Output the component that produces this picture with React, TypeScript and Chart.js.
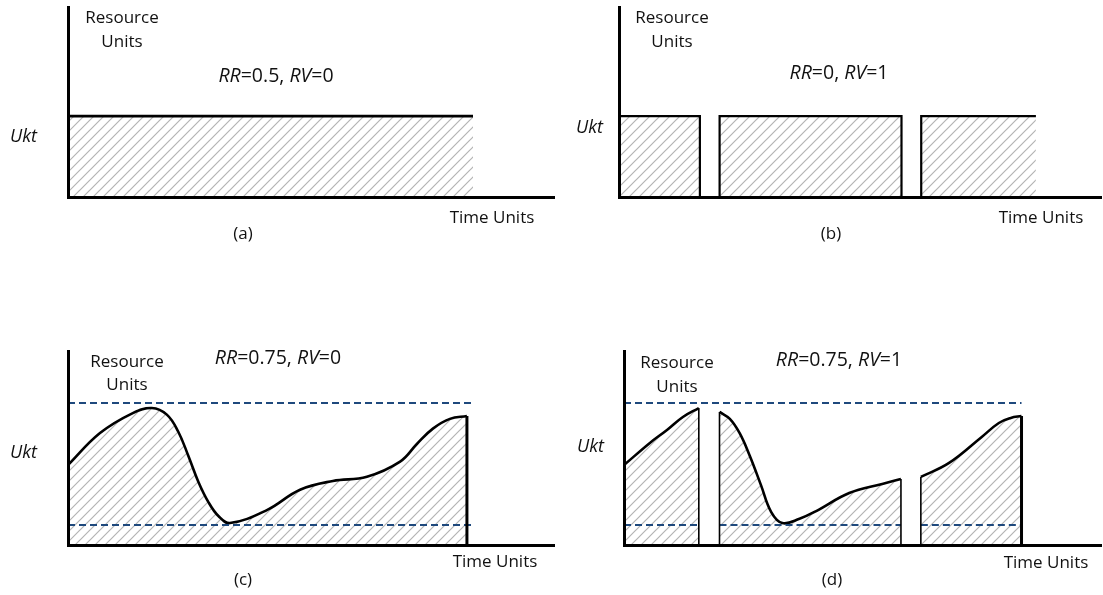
import React, { useEffect, useRef } from "react";
import { Chart, registerables } from "chart.js";
Chart.register(...registerables);

// ---------------- data ----------------
const timeMax = 12;
const unitsMax = 10;

// (a) RR=0.5, RV=0 : constant demand Ukt
const aTime = [0, 10];
const aUnits = [4.26, 4.26];

// (b) RR=0, RV=1 : on/off blocks at level Ukt
const bLevel = 4.26;
const bStarts = [0, 2.5, 7.51];
const bEnds = [2.01, 7.02, 10.36];

// (c) RR=0.75, RV=0 : varying demand, continuous
const cTime = [0, 0.79, 1.6, 2.07, 2.44, 2.72, 2.97, 3.22, 3.47, 3.72, 4.0, 4.91, 5.73, 6.54, 7.38, 8.2, 8.62, 9.01, 9.43, 9.85];
const cUnits = [4.12, 5.77, 6.8, 7.06, 6.72, 5.85, 4.6, 3.25, 2.2, 1.48, 1.13, 1.8, 2.85, 3.3, 3.52, 4.3, 5.22, 6.0, 6.5, 6.65];
const cBounds = [7.32, 1.03]; // upper, lower
const cBoundEnd = 10;

// (d) RR=0.75, RV=1 : varying demand with interruptions
const dTime1 = [0, 0.65, 1.08, 1.48, 1.88];
const dUnits1 = [4.12, 5.26, 5.93, 6.6, 7.06];
const dTime2 = [2.4, 2.66, 2.91, 3.16, 3.44, 3.7, 3.98, 4.41, 4.83, 5.66, 6.49, 6.96];
const dUnits2 = [6.86, 6.5, 5.75, 4.6, 3.1, 1.7, 1.13, 1.35, 1.75, 2.68, 3.15, 3.4];
const dTime3 = [7.46, 8.17, 8.99, 9.42, 9.72, 9.99];
const dUnits3 = [3.51, 4.23, 5.57, 6.29, 6.55, 6.65];
const dBounds = [7.32, 1.03];

// ---------------- helpers ----------------
const FONT = '"Open Sans", "Noto Sans", "DejaVu Sans", sans-serif';
const NAVY = "#1F497D";

type Run = [string, boolean];
type TextItem = { runs: Run[]; x: number; y: number; size: number; align?: "left" | "center" };

function pts(xs: number[], ys: number[]) {
  return xs.map((x, i) => ({ x, y: ys[i] }));
}

function makeHatch(): CanvasPattern | string {
  const c = document.createElement("canvas");
  c.width = 10;
  c.height = 10;
  const g = c.getContext("2d");
  if (!g) return "#ddd";
  g.strokeStyle = "#b4b4b4";
  g.lineWidth = 1.2;
  g.beginPath();
  g.moveTo(-1, 11);
  g.lineTo(11, -1);
  g.moveTo(-1, 1);
  g.lineTo(1, -1);
  g.moveTo(9, 11);
  g.lineTo(11, 9);
  g.stroke();
  const p = g.createPattern(c, "repeat");
  return p || "#ddd";
}

function curve(data: { x: number; y: number }[], hatch: any, width = 2.6, smooth = true) {
  return {
    data,
    order: 3,
    borderColor: "#000",
    borderWidth: width,
    pointRadius: 0,
    fill: "origin",
    backgroundColor: hatch,
    tension: smooth ? 0.4 : 0,
  };
}

function edge(t: number, top: number, width: number) {
  return {
    data: [
      { x: t, y: 0 },
      { x: t, y: top },
    ],
    order: 1,
    borderColor: "#000",
    borderWidth: width,
    pointRadius: 0,
    fill: false,
    tension: 0,
  };
}

function dash(t0: number, t1: number, v: number) {
  return {
    data: [
      { x: t0, y: v },
      { x: t1, y: v },
    ],
    order: 2,
    borderColor: NAVY,
    borderWidth: 2,
    borderDash: [7, 4],
    pointRadius: 0,
    fill: false,
    tension: 0,
  };
}

function textPlugin(items: TextItem[]) {
  return {
    id: "texts",
    afterDraw(chart: any) {
      const ctx = chart.ctx as CanvasRenderingContext2D;
      ctx.save();
      ctx.fillStyle = "#111";
      ctx.textBaseline = "middle";
      ctx.textAlign = "left";
      for (const it of items) {
        const widths = it.runs.map(([s, ital]) => {
          ctx.font = `${ital ? "italic " : ""}${it.size}px ${FONT}`;
          return ctx.measureText(s).width;
        });
        const total = widths.reduce((a, b) => a + b, 0);
        let x = it.align === "left" ? it.x : it.x - total / 2;
        it.runs.forEach(([s, ital], i) => {
          ctx.font = `${ital ? "italic " : ""}${it.size}px ${FONT}`;
          ctx.fillText(s, x, it.y);
          x += widths[i];
        });
      }
      ctx.restore();
    },
  };
}

function buildChart(
  canvas: HTMLCanvasElement,
  datasets: any[],
  texts: TextItem[],
  padding: { left: number; top: number; right: number; bottom: number }
) {
  const axis = (vertical: boolean, max: number) => ({
    type: "linear",
    min: 0,
    max,
    display: true,
    grid: { display: false, drawTicks: false },
    ticks: { display: false },
    border: { display: true, color: "#000", width: 3, z: 1 },
    afterFit(s: any) {
      if (vertical) s.width = 0;
      else s.height = 0;
    },
  });
  return new Chart(canvas, {
    type: "line",
    data: { datasets },
    options: {
      responsive: false,
      animation: false,
      events: [],
      layout: { padding },
      scales: { x: axis(false, timeMax) as any, y: axis(true, unitsMax) as any },
      plugins: { legend: { display: false }, tooltip: { enabled: false } },
    } as any,
    plugins: [textPlugin(texts)],
  } as any);
}

const label = (s: string, x: number, y: number, size = 17, align: "left" | "center" = "center"): TextItem => ({
  runs: [[s, false]],
  x,
  y,
  size,
  align,
});

// ---------------- component ----------------
export default function App() {
  const refA = useRef<HTMLCanvasElement>(null);
  const refB = useRef<HTMLCanvasElement>(null);
  const refC = useRef<HTMLCanvasElement>(null);
  const refD = useRef<HTMLCanvasElement>(null);

  useEffect(() => {
    const hatch = makeHatch();
    const charts: Chart[] = [];

    // (a)
    charts.push(
      buildChart(
        refA.current!,
        [curve(pts(aTime, aUnits), hatch, 2.8, false)],
        [
          label("Resource", 122, 18),
          label("Units", 122, 42),
          { runs: [["RR", true], ["=0.5, ", false], ["RV", true], ["=0", false]], x: 276, y: 76, size: 19.5 },
          { runs: [["Ukt", true]], x: 10, y: 137, size: 18, align: "left" },
          label("Time Units", 492, 218),
          label("(a)", 243, 234),
        ],
        { left: 68, top: 7, right: 6, bottom: 103 }
      )
    );

    // (b)
    const bSets: any[] = [];
    bStarts.forEach((s, i) => {
      const e = bEnds[i];
      const data: { x: number; y: number }[] = [];
      if (i > 0) data.push({ x: s, y: 0 });
      data.push({ x: s, y: bLevel }, { x: e, y: bLevel });
      if (i < bStarts.length - 1) data.push({ x: e, y: 0 });
      bSets.push({ ...curve(data, hatch, 2.2, false) });
    });
    charts.push(
      buildChart(
        refB.current!,
        bSets,
        [
          label("Resource", 116, 18),
          label("Units", 116, 42),
          { runs: [["RR", true], ["=0, ", false], ["RV", true], ["=1", false]], x: 283, y: 73, size: 19.5 },
          { runs: [["Ukt", true]], x: 20, y: 128, size: 18, align: "left" },
          label("Time Units", 485, 218),
          label("(b)", 275, 234),
        ],
        { left: 63, top: 7, right: 0, bottom: 103 }
      )
    );

    // (c)
    const cLast = cTime.length - 1;
    charts.push(
      buildChart(
        refC.current!,
        [
          curve(pts(cTime, cUnits), hatch, 2.6),
          edge(cTime[cLast], cUnits[cLast], 3),
          dash(0, cBoundEnd, cBounds[0]),
          dash(0, cBoundEnd, cBounds[1]),
        ],
        [
          label("Resource", 127, 62),
          label("Units", 127, 85),
          { runs: [["RR", true], ["=0.75, ", false], ["RV", true], ["=0", false]], x: 278, y: 58, size: 19.5 },
          { runs: [["Ukt", true]], x: 10, y: 153, size: 18, align: "left" },
          label("Time Units", 495, 262),
          label("(c)", 243, 280),
        ],
        { left: 68, top: 51, right: 6, bottom: 50 }
      )
    );

    // (d)
    const segs = [
      [dTime1, dUnits1],
      [dTime2, dUnits2],
      [dTime3, dUnits3],
    ];
    const dSets: any[] = [];
    segs.forEach(([ts, us], i) => {
      dSets.push(curve(pts(ts, us), hatch, 2.6));
      const last = ts.length - 1;
      if (i > 0) dSets.push(edge(ts[0], us[0], 1.6));
      dSets.push(edge(ts[last], us[last], i === segs.length - 1 ? 3 : 1.6));
      dSets.push(dash(ts[0], ts[last], dBounds[1]));
    });
    dSets.push(dash(0, dTime3[dTime3.length - 1], dBounds[0]));
    charts.push(
      buildChart(
        refD.current!,
        dSets,
        [
          label("Resource", 121, 63),
          label("Units", 121, 87),
          { runs: [["RR", true], ["=0.75, ", false], ["RV", true], ["=1", false]], x: 283, y: 60, size: 19.5 },
          { runs: [["Ukt", true]], x: 21, y: 147, size: 18, align: "left" },
          label("Time Units", 490, 263),
          label("(d)", 276, 280),
        ],
        { left: 68, top: 51, right: 0, bottom: 50 }
      )
    );

    if ((document as any).fonts && (document as any).fonts.load) {
      Promise.all([
        (document as any).fonts.load(`17px ${FONT}`),
        (document as any).fonts.load(`italic 17px ${FONT}`),
      ])
        .then(() => charts.forEach((c) => c.update()))
        .catch(() => {});
    }

    return () => charts.forEach((c) => c.destroy());
  }, []);

  const abs = (left: number, top: number, w: number, h: number): React.CSSProperties => ({
    position: "absolute",
    left,
    top,
    width: w,
    height: h,
  });

  return (
    <div style={{ position: "absolute", left: 0, top: 0, width: 1103, height: 595, background: "#fff", overflow: "hidden" }}>
      <canvas ref={refA} width={560} height={300} style={abs(0, 0, 560, 300)} />
      <canvas ref={refB} width={547} height={300} style={abs(556, 0, 547, 300)} />
      <canvas ref={refC} width={560} height={295} style={abs(0, 300, 560, 295)} />
      <canvas ref={refD} width={547} height={295} style={abs(556, 300, 547, 295)} />
    </div>
  );
}
